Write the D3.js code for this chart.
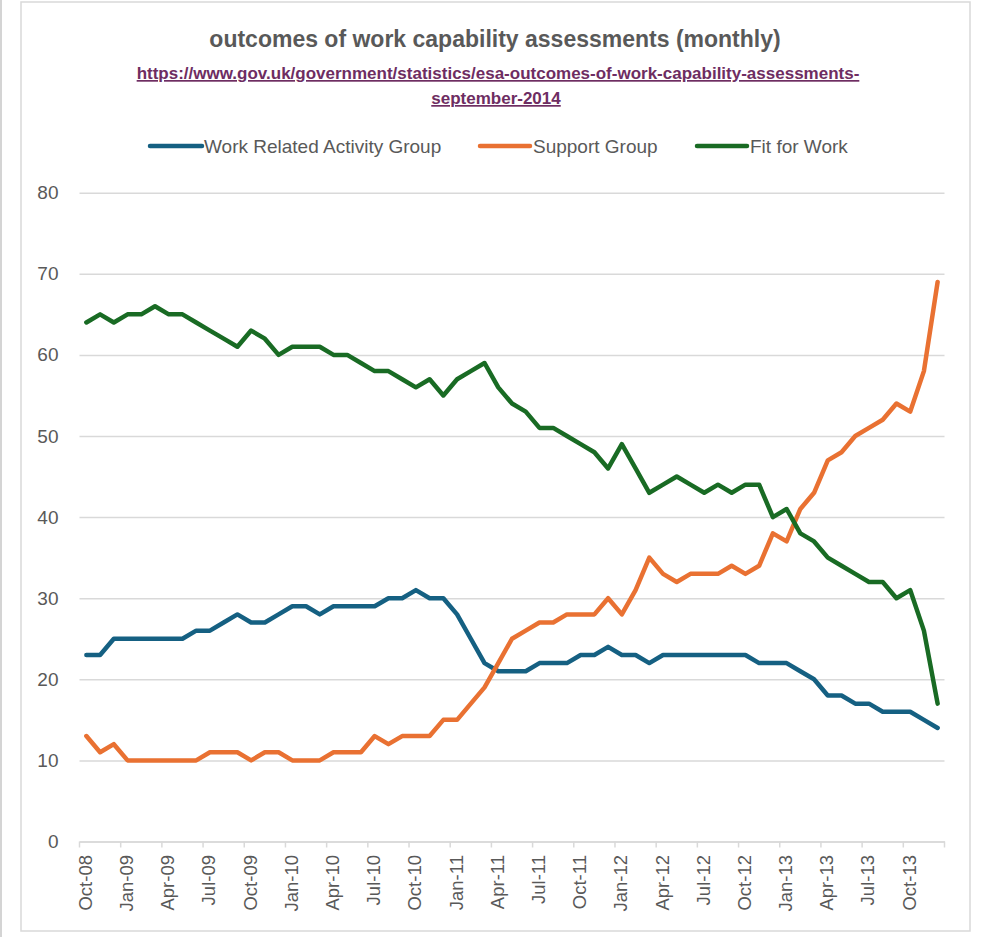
<!DOCTYPE html>
<html>
<head>
<meta charset="utf-8">
<script src="https://cdn.jsdelivr.net/npm/d3@7"></script>
<style>
  html, body { margin: 0; padding: 0; background: #fff; }
  svg { display: block; }
</style>
</head>
<body>
<svg id="chart" width="985" height="937"></svg>
<script>
const categories = [
  "Oct-08","Nov-08","Dec-08",
  "Jan-09","Feb-09","Mar-09","Apr-09","May-09","Jun-09","Jul-09","Aug-09","Sep-09","Oct-09","Nov-09","Dec-09",
  "Jan-10","Feb-10","Mar-10","Apr-10","May-10","Jun-10","Jul-10","Aug-10","Sep-10","Oct-10","Nov-10","Dec-10",
  "Jan-11","Feb-11","Mar-11","Apr-11","May-11","Jun-11","Jul-11","Aug-11","Sep-11","Oct-11","Nov-11","Dec-11",
  "Jan-12","Feb-12","Mar-12","Apr-12","May-12","Jun-12","Jul-12","Aug-12","Sep-12","Oct-12","Nov-12","Dec-12",
  "Jan-13","Feb-13","Mar-13","Apr-13","May-13","Jun-13","Jul-13","Aug-13","Sep-13","Oct-13","Nov-13","Dec-13"
];
const tickLabels = ["Oct-08","Jan-09","Apr-09","Jul-09","Oct-09","Jan-10","Apr-10","Jul-10","Oct-10",
  "Jan-11","Apr-11","Jul-11","Oct-11","Jan-12","Apr-12","Jul-12","Oct-12","Jan-13","Apr-13","Jul-13","Oct-13"];
const workRelatedActivityGroup = [
  23,23,25,25,25,25,25,25,26,26,27,28,27,27,28,29,29,28,29,29,29,29,30,30,31,30,30,28,25,22,
  21,21,21,22,22,22,23,23,24,23,23,22,23,23,23,23,23,23,23,22,22,22,21,20,18,18,17,17,16,16,
  16,15,14
];
const supportGroup = [
  13,11,12,10,10,10,10,10,10,11,11,11,10,11,11,10,10,10,11,11,11,13,12,13,13,13,15,15,17,19,
  22,25,26,27,27,28,28,28,30,28,31,35,33,32,33,33,33,34,33,34,38,37,41,43,47,48,50,51,52,54,
  53,58,69
];
const fitForWork = [
  64,65,64,65,65,66,65,65,64,63,62,61,63,62,60,61,61,61,60,60,59,58,58,57,56,57,55,57,58,59,
  56,54,53,51,51,50,49,48,46,49,46,43,44,45,44,43,44,43,44,44,40,41,38,37,35,34,33,32,32,30,
  31,26,17
];
const yTicks = [0,10,20,30,40,50,60,70,80];
const seriesNames = ["Work Related Activity Group","Support Group","Fit for Work"];
const seriesColors = ["#156082","#E97132","#196B24"];

const svg = d3.select("#chart");
const FONT = "'Liberation Sans', Arial, sans-serif";
const GREY = "#595959";

// frame
svg.append("rect").attr("x",0).attr("y",0).attr("width",2).attr("height",937).attr("fill","#d4d4d4");
svg.append("rect").attr("x",21).attr("y",2).attr("width",949).attr("height",929)
  .attr("fill","#fff").attr("stroke","#d9d9d9").attr("stroke-width",1.5);

const x = d3.scaleBand().domain(categories).range([79.5, 944.5]).paddingInner(0).paddingOuter(0);
const y = d3.scaleLinear().domain([0, 80]).range([841.5, 192.7]);
const cx = d => x(d) + x.bandwidth() / 2;

// title
svg.append("text").attr("x", 495).attr("y", 47).attr("text-anchor","middle")
  .attr("font-family", FONT).attr("font-weight","bold").attr("font-size", 23).attr("fill", GREY)
  .text("outcomes of work capability assessments (monthly)");
const link = svg.append("g").attr("font-family", FONT).attr("font-weight","bold")
  .attr("font-size", 17).attr("fill", "#6e2d62").attr("text-decoration","underline");
link.append("text").attr("x", 498).attr("y", 79).attr("text-anchor","middle")
  .text("https://www.gov.uk/government/statistics/esa-outcomes-of-work-capability-assessments-");
link.append("text").attr("x", 496).attr("y", 104).attr("text-anchor","middle")
  .text("september-2014");

// gridlines + y labels
const yAxis = d3.axisLeft(y).tickValues(yTicks).tickSize(-(944.5 - 79.5)).tickPadding(21).tickFormat(d3.format("d"));
const gy = svg.append("g").attr("transform","translate(79.5,0)").call(yAxis);
gy.select(".domain").remove();
gy.selectAll(".tick line").attr("stroke","#d9d9d9").attr("stroke-width",1.5);
gy.selectAll(".tick text").attr("font-family", FONT).attr("font-size", 19).attr("fill", GREY);

// x axis
const xAxis = d3.axisBottom(x).tickValues(tickLabels).tickSize(0).tickPadding(0);
const gx = svg.append("g").attr("transform","translate(0,841.5)").call(xAxis);
gx.select(".domain").attr("stroke","#d9d9d9").attr("stroke-width",1.5);
gx.selectAll(".tick text")
  .attr("font-family", FONT).attr("font-size", 18.5).attr("fill", GREY)
  .attr("text-anchor","end").attr("dy","0.35em")
  .attr("transform","translate(-1,13.5) rotate(-90)").attr("x",0).attr("y",0);
// tick marks at category boundaries every 3 months
const boundaryIdx = d3.range(0, categories.length + 1, 3);
gx.selectAll(".bmark").data(boundaryIdx).enter().append("line")
  .attr("x1", i => x.range()[0] + i * x.step()).attr("x2", i => x.range()[0] + i * x.step())
  .attr("y1", 0).attr("y2", 6).attr("stroke","#d9d9d9").attr("stroke-width",1.5);

// lines
const allSeries = [workRelatedActivityGroup, supportGroup, fitForWork];
const line = d3.line().x((d,i) => cx(categories[i])).y(d => y(d)).curve(d3.curveLinear);
allSeries.forEach((vals, k) => {
  svg.append("path").datum(vals).attr("d", line).attr("fill","none")
    .attr("stroke", seriesColors[k]).attr("stroke-width", 4.5)
    .attr("stroke-linejoin","round").attr("stroke-linecap","round");
});

// legend
const legendItems = [
  {x1:150, x2:202, tx:204},
  {x1:480, x2:530, tx:533},
  {x1:697, x2:747, tx:750}
];
legendItems.forEach((it, k) => {
  svg.append("line").attr("x1", it.x1).attr("x2", it.x2).attr("y1",146).attr("y2",146)
    .attr("stroke", seriesColors[k]).attr("stroke-width",4.5).attr("stroke-linecap","round");
  svg.append("text").attr("x", it.tx).attr("y", 146).attr("dy","0.35em")
    .attr("font-family", FONT).attr("font-size", 19).attr("fill", GREY).text(seriesNames[k]);
});
</script>
</body>
</html>
